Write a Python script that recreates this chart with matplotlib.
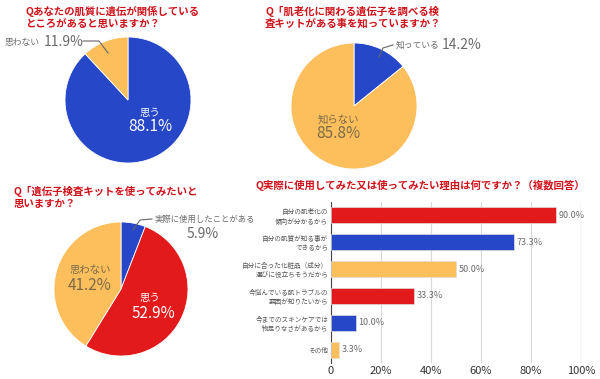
import numpy as np
import matplotlib
matplotlib.use("Agg")
from matplotlib import pyplot as plt

plt.rcParams['font.family'] = ['Noto Sans CJK JP', 'DejaVu Sans']

# データ
q1_labels = ['思う', '思わない']
q1_values = [88.1, 11.9]
q2_labels = ['知っている', '知らない']
q2_values = [14.2, 85.8]
q3_labels = ['実際に使用したことがある', '思う', '思わない']
q3_values = [5.9, 52.9, 41.2]
reasons = ['自分の肌老化の\n傾向が分かるから', '自分の肌質が知る事が\nできるから',
           '自分に合った化粧品（成分）\n選びに役立ちそうだから', '今悩んでいる肌トラブルの\n要因が知りたいから',
           '今までのスキンケアでは\n物足りなさがあるから', 'その他']
reason_values = [90.0, 73.3, 50.0, 33.3, 10.0, 3.3]
xticks = [0, 20, 40, 60, 80, 100]
xtick_labels = ['0', '20%', '40%', '60%', '80%', '100%']

BLUE = '#2647c8'
ORANGE = '#fcbf5c'
RED = '#e21a1c'
TITLE = '#d0121b'
GRAY = '#6b6b6b'

W, H = 600, 379
fig = plt.figure(figsize=(6, 3.79), dpi=100)

def pos(x, y):
    return x / W, 1 - y / H

def pie_ax(cx, cy, r):
    ax = fig.add_axes([(cx - r) / W, 1 - (cy + r) / H, 2 * r / W, 2 * r / H])
    ax.set_xlim(-1, 1)
    ax.set_ylim(-1, 1)
    ax.axis('off')
    return ax

def txt(x, y, s, **kw):
    fig.text(*pos(x, y), s, **kw)

def leader(pts, color='#666666'):
    xs = [p[0] / W for p in pts]
    ys = [1 - p[1] / H for p in pts]
    fig.add_artist(plt.Line2D(xs, ys, color=color, lw=0.8, transform=fig.transFigure))

tkw = dict(color=TITLE, fontsize=7.5, fontweight='bold', va='center')

# Q1
ax = pie_ax(128, 100, 63)
ax.pie(q1_values, colors=[BLUE, ORANGE], startangle=90, counterclock=False,
       radius=1, wedgeprops=dict(linewidth=0.6, edgecolor='white'))
ax.set_xlim(-1, 1); ax.set_ylim(-1, 1)
txt(25, 11, 'Qあなたの肌質に遺伝が関係している', **tkw)
txt(25, 24, 'ところがあると思いますか？', **tkw)
txt(5, 42, q1_labels[1], color=GRAY, fontsize=6.3, va='center')
txt(44, 42, f'{q1_values[1]}%', color=GRAY, fontsize=10, va='center')
leader([(83, 41), (99, 41), (108, 53)])
txt(150, 113, q1_labels[0], color='white', fontsize=7.5, ha='center', va='center')
txt(150, 127, f'{q1_values[0]}%', color='white', fontsize=11, ha='center', va='center')

# Q2
ax = pie_ax(354, 106, 63)
ax.pie(q2_values, colors=[BLUE, ORANGE], startangle=90, counterclock=False,
       radius=1, wedgeprops=dict(linewidth=0.6, edgecolor='white'))
ax.set_xlim(-1, 1); ax.set_ylim(-1, 1)
txt(265, 11, 'Q「肌老化に関わる遺伝子を調べる検', **tkw)
txt(265, 24, '査キットがある事を知っていますか？', **tkw)
leader([(379, 57), (383, 48), (393, 45)])
txt(396, 45, q2_labels[0], color=GRAY, fontsize=6.3, va='center')
txt(442, 45, f'{q2_values[0]}%', color=GRAY, fontsize=10, va='center')
txt(338, 120, q2_labels[1], color='#7a6a4a', fontsize=7.5, ha='center', va='center')
txt(338, 134, f'{q2_values[1]}%', color='#7a6a4a', fontsize=11, ha='center', va='center')

# Q3
ax = pie_ax(121, 289, 67)
ax.pie(q3_values, colors=[BLUE, RED, ORANGE], startangle=90, counterclock=False,
       radius=1, wedgeprops=dict(linewidth=0.6, edgecolor='white'))
ax.set_xlim(-1, 1); ax.set_ylim(-1, 1)
txt(14, 191, 'Q「遺伝子検査キットを使ってみたいと', **tkw)
txt(14, 204, '思いますか？', **tkw)
leader([(133, 230), (140, 220), (152, 219)])
txt(155, 219, q3_labels[0], color=GRAY, fontsize=6, va='center')
txt(203, 234, f'{q3_values[0]}%', color=GRAY, fontsize=10, ha='center', va='center')
txt(150, 298, q3_labels[1], color='white', fontsize=7.5, ha='center', va='center')
txt(153, 313, f'{q3_values[1]}%', color='white', fontsize=11, ha='center', va='center')
txt(90, 270, q3_labels[2], color='#7a6a4a', fontsize=7.5, ha='center', va='center')
txt(90, 285, f'{q3_values[2]}%', color='#7a6a4a', fontsize=11, ha='center', va='center')

# Q4 棒グラフ
bx0, bx1, by0, by1 = 331, 581, 202, 363
ax = fig.add_axes([bx0 / W, 1 - by1 / H, (bx1 - bx0) / W, (by1 - by0) / H])
bar_colors = [RED, BLUE, ORANGE, RED, BLUE, ORANGE]
y = np.arange(len(reasons))
ax.barh(y, reason_values, height=0.6, color=bar_colors, edgecolor='#dddddd', linewidth=0.5, zorder=3)
for yi, v in zip(y, reason_values):
    ax.text(v + 1, yi, f'{v:.1f}%', color=GRAY, fontsize=6.5, va='center', zorder=4)
ax.set_xlim(0, 100)
ax.set_ylim(len(reasons) - 0.5, -0.5)
ax.set_yticks(y)
ax.set_yticklabels(reasons, fontsize=4.8, color='#555555', linespacing=1.2)
ax.set_xticks(xticks)
ax.set_xticklabels(xtick_labels, fontsize=8, color='#333333')
ax.tick_params(axis='both', length=0, pad=2)
ax.grid(axis='x', color='#d9d9d9', lw=0.8, zorder=0)
for s in ['top', 'right', 'bottom']:
    ax.spines[s].set_visible(False)
ax.spines['left'].set_color('#444444')
ax.axvline(100, color='#888888', lw=0.8, zorder=1)
txt(255, 185, 'Q実際に使用してみた又は使ってみたい理由は何ですか？（複数回答）', **tkw)

fig.savefig('out.png', dpi=100)
